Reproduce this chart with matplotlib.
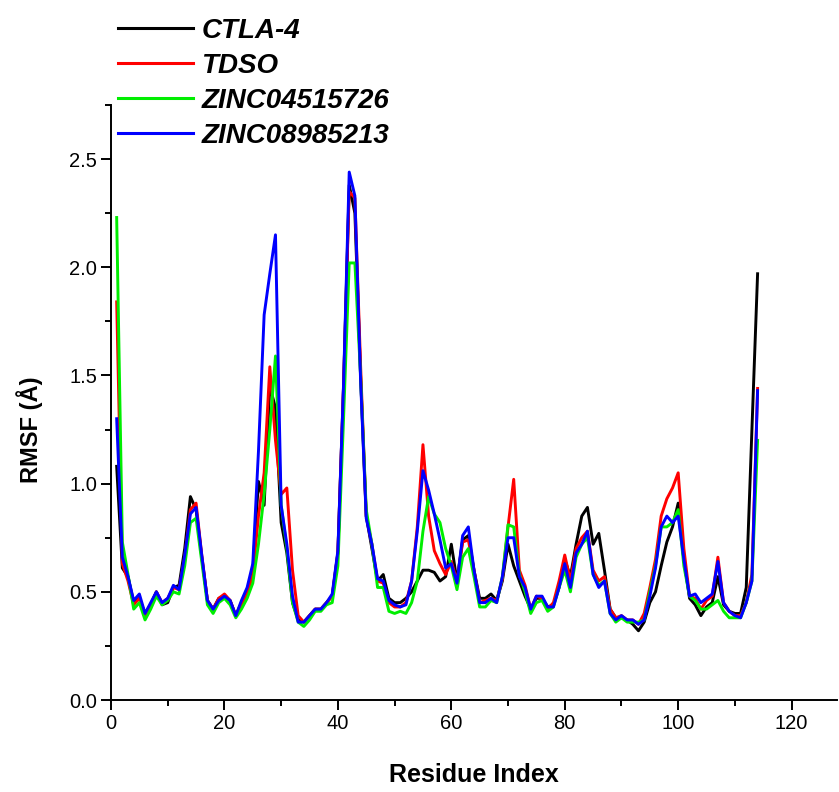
import numpy as np
import matplotlib
matplotlib.use("Agg")
import matplotlib.pyplot as plt
from matplotlib.ticker import MultipleLocator

plt.rcParams['font.family'] = ['Liberation Sans', 'DejaVu Sans']

# RMSF per residue (1..114)
residues = np.arange(1, 115)

ctla4 = [
    1.08, 0.61, 0.57, 0.45, 0.47, 0.40, 0.44, 0.50, 0.44, 0.45,
    0.52, 0.53, 0.70, 0.94, 0.88, 0.66, 0.46, 0.42, 0.47, 0.48,
    0.46, 0.39, 0.45, 0.50, 0.60, 1.01, 0.90, 1.45, 1.35, 0.82,
    0.68, 0.45, 0.37, 0.36, 0.39, 0.42, 0.42, 0.45, 0.48, 0.68,
    1.45, 2.38, 2.25, 1.50, 0.85, 0.70, 0.55, 0.58, 0.47, 0.45,
    0.45, 0.47, 0.50, 0.55, 0.60, 0.60, 0.59, 0.55, 0.57, 0.72,
    0.55, 0.74, 0.76, 0.60, 0.47, 0.47, 0.49, 0.46, 0.55, 0.72,
    0.62, 0.55, 0.48, 0.42, 0.47, 0.47, 0.43, 0.44, 0.52, 0.65,
    0.57, 0.72, 0.85, 0.89, 0.72, 0.77, 0.60, 0.42, 0.38, 0.38,
    0.37, 0.35, 0.32, 0.36, 0.45, 0.50, 0.62, 0.73, 0.80, 0.91,
    0.65, 0.47, 0.44, 0.39, 0.43, 0.45, 0.57, 0.44, 0.41, 0.40,
    0.40, 0.52, 1.25, 1.97,
]

tdso = [
    1.84, 0.63, 0.55, 0.44, 0.47, 0.39, 0.44, 0.50, 0.45, 0.47,
    0.52, 0.51, 0.66, 0.88, 0.91, 0.67, 0.46, 0.42, 0.47, 0.49,
    0.46, 0.39, 0.44, 0.49, 0.58, 0.85, 1.05, 1.54, 1.20, 0.95,
    0.98, 0.60, 0.39, 0.36, 0.39, 0.42, 0.42, 0.45, 0.48, 0.68,
    1.45, 2.35, 2.32, 1.55, 0.85, 0.72, 0.55, 0.54, 0.45, 0.43,
    0.43, 0.45, 0.55, 0.80, 1.18, 0.85, 0.69, 0.63, 0.58, 0.64,
    0.55, 0.73, 0.74, 0.60, 0.45, 0.46, 0.47, 0.46, 0.56, 0.80,
    1.02, 0.60, 0.53, 0.42, 0.48, 0.47, 0.42, 0.45, 0.55, 0.67,
    0.55, 0.70, 0.75, 0.78, 0.60, 0.55, 0.57, 0.42, 0.38, 0.39,
    0.37, 0.37, 0.35, 0.40, 0.52, 0.65, 0.85, 0.93, 0.98, 1.05,
    0.70, 0.48, 0.47, 0.42, 0.46, 0.48, 0.66, 0.45, 0.41, 0.39,
    0.39, 0.45, 0.58, 1.44,
]

zinc04515726 = [
    2.23, 0.73, 0.58, 0.42, 0.45, 0.37, 0.42, 0.48, 0.44, 0.46,
    0.50, 0.49, 0.62, 0.82, 0.84, 0.64, 0.44, 0.40, 0.45, 0.47,
    0.44, 0.38, 0.42, 0.47, 0.54, 0.72, 0.95, 1.25, 1.59, 0.90,
    0.70, 0.45, 0.36, 0.34, 0.37, 0.41, 0.41, 0.44, 0.45, 0.62,
    1.30, 2.02, 2.02, 1.50, 0.88, 0.72, 0.52, 0.52, 0.41, 0.40,
    0.41, 0.40, 0.45, 0.55, 0.78, 0.94, 0.86, 0.82, 0.70, 0.62,
    0.51, 0.66, 0.70, 0.57, 0.43, 0.43, 0.46, 0.45, 0.57, 0.81,
    0.80, 0.58, 0.50, 0.40, 0.45, 0.46, 0.41, 0.43, 0.52, 0.60,
    0.50, 0.66, 0.72, 0.75, 0.58, 0.53, 0.55, 0.40, 0.36, 0.38,
    0.36, 0.36, 0.36, 0.37, 0.50, 0.62, 0.80, 0.80, 0.82, 0.88,
    0.62, 0.48, 0.46, 0.42, 0.42, 0.44, 0.46, 0.41, 0.38, 0.38,
    0.38, 0.45, 0.55, 1.20,
]

zinc08985213 = [
    1.30, 0.66, 0.57, 0.46, 0.49, 0.40, 0.45, 0.50, 0.45, 0.47,
    0.53, 0.51, 0.67, 0.86, 0.89, 0.67, 0.46, 0.42, 0.46, 0.48,
    0.46, 0.39, 0.46, 0.52, 0.63, 1.15, 1.78, 1.97, 2.15, 0.90,
    0.72, 0.48, 0.36, 0.36, 0.39, 0.42, 0.42, 0.45, 0.49, 0.69,
    1.46, 2.44, 2.33, 1.48, 0.84, 0.72, 0.56, 0.55, 0.46, 0.44,
    0.43, 0.44, 0.55, 0.78, 1.06, 0.97, 0.86, 0.74, 0.61, 0.63,
    0.54, 0.76, 0.80, 0.60, 0.45, 0.45, 0.47, 0.45, 0.57, 0.75,
    0.75, 0.57, 0.52, 0.42, 0.48, 0.48, 0.43, 0.43, 0.52, 0.63,
    0.52, 0.68, 0.72, 0.78, 0.58, 0.52, 0.55, 0.40, 0.37, 0.39,
    0.37, 0.37, 0.35, 0.37, 0.48, 0.61, 0.80, 0.85, 0.82, 0.85,
    0.65, 0.48, 0.49, 0.45, 0.47, 0.49, 0.64, 0.45, 0.41, 0.39,
    0.38, 0.45, 0.55, 1.43,
]

series = [
    ("CTLA-4", ctla4, "#000000"),
    ("TDSO", tdso, "#ff0000"),
    ("ZINC04515726", zinc04515726, "#00ee00"),
    ("ZINC08985213", zinc08985213, "#0000ff"),
]

fig = plt.figure(figsize=(8.39, 7.92), dpi=100)
ax = fig.add_axes([111 / 839, 92 / 792, 726 / 839, 595 / 792])

lines = []
for name, vals, color in series:
    ln, = ax.plot(residues, vals, color=color, lw=2.1, label=name)
    lines.append(ln)

ax.set_xlim(0, 128)
ax.set_ylim(0, 2.75)
ax.xaxis.set_major_locator(MultipleLocator(20))
ax.xaxis.set_minor_locator(MultipleLocator(10))
ax.yaxis.set_major_locator(MultipleLocator(0.5))
ax.yaxis.set_minor_locator(MultipleLocator(0.25))
ax.yaxis.set_major_formatter(matplotlib.ticker.FormatStrFormatter('%.1f'))

for side in ['top', 'right']:
    ax.spines[side].set_visible(False)
for side in ['left', 'bottom']:
    ax.spines[side].set_linewidth(1.4)

ax.tick_params(which='major', direction='out', length=7, width=1.4, labelsize=14.5, pad=3)
ax.tick_params(which='minor', direction='out', length=4, width=1.4)

ax.set_xlabel("Residue Index", fontsize=18, fontweight='bold', labelpad=22)
ax.set_ylabel("RMSF (Å)", fontsize=17, fontweight='bold')
ax.yaxis.set_label_coords(-0.094, 0.455)

leg = fig.legend(handles=lines, loc='upper left', bbox_to_anchor=(118 / 839, 0.977),
                 frameon=False, borderpad=0, borderaxespad=0,
                 handlelength=2.7, handletextpad=0.3, labelspacing=0.32,
                 prop={'size': 20, 'weight': 'bold', 'style': 'italic'})
for h in leg.get_lines():
    h.set_linewidth(2.2)

fig.savefig("out.png", dpi=100)
